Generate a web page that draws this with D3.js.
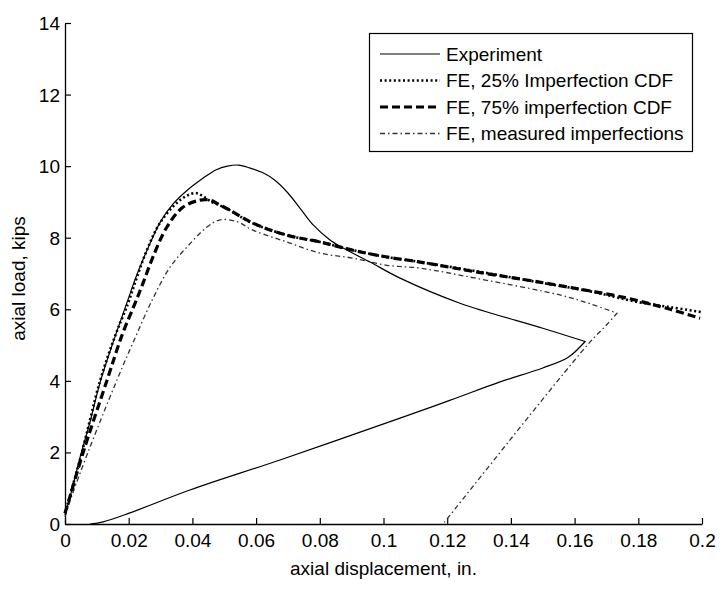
<!DOCTYPE html>
<html><head><meta charset="utf-8">
<script src="https://cdn.jsdelivr.net/npm/d3@7"></script>
<style>body{margin:0;background:#fff}svg{display:block}text{font-family:"Liberation Sans",Arial,sans-serif;fill:#000}</style>
</head><body>
<svg id="c" width="722" height="592"></svg>
<script>
// ---- data ----
const xTicks = [0,0.02,0.04,0.06,0.08,0.1,0.12,0.14,0.16,0.18,0.2];
const xTickLabels = ["0","0.02","0.04","0.06","0.08","0.1","0.12","0.14","0.16","0.18","0.2"];
const yTicks = [0,2,4,6,8,10,12,14];
const seriesNames = ["Experiment","FE, 25% Imperfection CDF","FE, 75% imperfection CDF","FE, measured imperfections"];

const expX = [0.000,0.002,0.005,0.008,0.011,0.015,0.0195,0.0225,0.026,0.030,0.034,0.0383,0.0433,0.0475,0.051,0.0545,0.058,0.062,0.066,0.070,0.074,0.078,0.083,0.0873,0.0958,0.1052,0.124,0.150,0.1633,0.158,0.150,0.1366,0.121,0.1052,0.0675,0.0392,0.0204,0.012,0.0078];
const expY = [0.25,0.9,1.95,2.9,3.95,5.05,6.2,6.95,7.7,8.45,8.95,9.32,9.66,9.9,10.0,10.03,9.95,9.82,9.6,9.25,8.8,8.35,7.95,7.71,7.32,6.87,6.17,5.47,5.1,4.66,4.36,3.97,3.46,2.96,1.79,0.95,0.31,0.06,0];

const fe25X = [0,0.0016,0.0053,0.011,0.0155,0.0198,0.0226,0.0257,0.0298,0.0361,0.0408,0.0435,0.046,0.0487,0.0518,0.058,0.0697,0.0801,0.0904,0.1011,0.1115,0.130,0.149,0.165,0.180,0.190,0.200];
const fe25Y = [0.3,0.8,2.0,4.0,5.2,6.17,6.9,7.65,8.41,9.05,9.25,9.15,9.0,8.9,8.77,8.44,8.07,7.88,7.65,7.46,7.32,7.05,6.75,6.5,6.2,6.06,5.92];

const fe75X = [0,0.0016,0.0057,0.0132,0.018,0.022,0.0245,0.0276,0.032,0.037,0.0424,0.0455,0.0487,0.0518,0.059,0.0697,0.0801,0.0904,0.1011,0.1115,0.130,0.149,0.1554,0.175,0.190,0.1994];
const fe75Y = [0.3,0.78,2.0,4.02,5.3,6.17,6.73,7.46,8.3,8.85,9.05,9.05,8.91,8.77,8.41,8.07,7.88,7.65,7.46,7.32,7.03,6.76,6.66,6.34,6.0,5.75];

const feMX = [0,0.002,0.0072,0.0163,0.022,0.0276,0.033,0.0383,0.0446,0.0487,0.054,0.059,0.0697,0.0801,0.0904,0.1011,0.1115,0.130,0.1554,0.165,0.1733,0.170,0.164,0.1187];
const feMY = [0.2,0.75,2.0,4.02,5.2,6.3,7.18,7.74,8.3,8.5,8.45,8.21,7.88,7.57,7.43,7.23,7.15,6.85,6.40,6.15,5.89,5.56,5.0,0];

// ---- layout ----
const svg = d3.select("#c");
const L = 65, R = 702, T = 23, B = 524;
const x = d3.scaleLinear().domain([0,0.2]).range([L,R]);
const y = d3.scaleLinear().domain([0,14]).range([B,T]);
const FS = 19;

const styles = [
  {w:1.2, dash:null, col:"#000"},
  {w:2.6, dash:"2,2.6", col:"#000"},
  {w:3.2, dash:"8,4", col:"#000"},
  {w:1.3, dash:"5,3,1.5,3", col:"#333"}
];

// axes
const xAxis = d3.axisBottom(x).tickValues(xTicks).tickFormat((d,i)=>xTickLabels[i]).tickSizeInner(-6).tickSizeOuter(0).tickPadding(10);
const gx = svg.append("g").attr("transform",`translate(0,${B})`).call(xAxis);
const yAxis = d3.axisLeft(y).tickValues(yTicks).tickSizeInner(-6).tickSizeOuter(0).tickPadding(5);
const gy = svg.append("g").attr("transform",`translate(${L},0)`).call(yAxis);
[gx,gy].forEach(g=>{
  g.select(".domain").attr("stroke","#000").attr("stroke-width",1.3);
  g.selectAll(".tick line").attr("stroke","#000").attr("stroke-width",1.2);
  g.selectAll("text").style("font-size",FS+"px").attr("fill","#000");
});
gy.selectAll(".tick text").attr("dy","0.34em");

// axis titles
svg.append("text").attr("x",(L+R)/2).attr("y",575).attr("text-anchor","middle").style("font-size",FS+"px").text("axial displacement, in.");
svg.append("text").attr("transform",`translate(25,${(T+B)/2+5}) rotate(-90)`).attr("text-anchor","middle").style("font-size",FS+"px").text("axial load, kips");

// lines: smooth each monotone-in-time branch, keep the reversal corner sharp
const line = d3.line().x(d=>x(d[0])).y(d=>y(d[1])).curve(d3.curveCatmullRom.alpha(0.5));
function pathD(xs, ys){
  const pts = d3.zip(xs, ys);
  const k = d3.maxIndex(xs);
  if (k >= pts.length - 1) return line(pts);
  return line(pts.slice(0, k+1)) + line(pts.slice(k)).replace(/^M/, "L");
}
const series = [[expX,expY],[fe25X,fe25Y],[fe75X,fe75Y],[feMX,feMY]];
const order = [3,0,1,2];
order.forEach(i=>{
  const s = styles[i];
  svg.append("path").attr("d",pathD(series[i][0], series[i][1]))
    .attr("fill","none").attr("stroke",s.col).attr("stroke-width",s.w)
    .attr("stroke-dasharray",s.dash).attr("stroke-linejoin","miter");
});

// legend
const lg = svg.append("g");
lg.append("rect").attr("x",369.5).attr("y",33.5).attr("width",323).attr("height",118)
  .attr("fill","#fff").attr("stroke","#000").attr("stroke-width",1.2);
seriesNames.forEach((n,i)=>{
  const yy = 54 + i*26.5;
  const s = styles[i];
  lg.append("line").attr("x1",380).attr("x2",440).attr("y1",yy).attr("y2",yy)
    .attr("stroke",s.col).attr("stroke-width",s.w).attr("stroke-dasharray",s.dash);
  lg.append("text").attr("x",446).attr("y",yy).attr("dy","0.35em").style("font-size",FS+"px").text(n);
});
</script>
</body></html>
